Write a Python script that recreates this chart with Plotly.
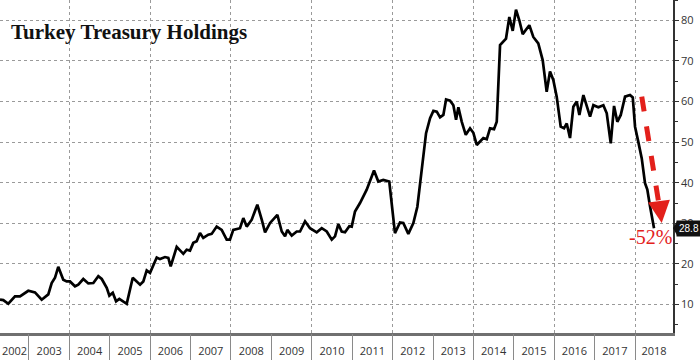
import plotly.graph_objects as go
from datetime import datetime

# Time of each traced point (decimal years) and Turkey's holdings of US Treasuries ($bn)
dec_years = [
    2002.282, 2002.364, 2002.488, 2002.653, 2002.777, 2002.859, 2002.983, 2003.149, 2003.314, 2003.478,
    2003.562, 2003.644, 2003.725, 2003.849, 2003.933, 2004.015, 2004.139, 2004.220, 2004.344, 2004.468,
    2004.592, 2004.715, 2004.800, 2004.923, 2004.988, 2005.072, 2005.154, 2005.235, 2005.319, 2005.418,
    2005.567, 2005.748, 2005.829, 2005.913, 2005.995, 2006.161, 2006.243, 2006.366, 2006.448, 2006.507,
    2006.656, 2006.820, 2006.903, 2006.985, 2007.067, 2007.151, 2007.233, 2007.314, 2007.438, 2007.522,
    2007.646, 2007.770, 2007.894, 2007.975, 2008.057, 2008.223, 2008.305, 2008.389, 2008.513, 2008.651,
    2008.760, 2008.842, 2008.966, 2009.047, 2009.146, 2009.255, 2009.337, 2009.394, 2009.502, 2009.626,
    2009.708, 2009.832, 2009.955, 2010.121, 2010.245, 2010.369, 2010.493, 2010.574, 2010.656, 2010.740,
    2010.822, 2010.928, 2010.988, 2011.069, 2011.193, 2011.359, 2011.458, 2011.540, 2011.646, 2011.770,
    2011.918, 2012.059, 2012.183, 2012.265, 2012.389, 2012.513, 2012.612, 2012.827, 2012.926, 2013.008,
    2013.092, 2013.173, 2013.255, 2013.322, 2013.421, 2013.503, 2013.569, 2013.627, 2013.711, 2013.810,
    2013.916, 2013.998, 2014.082, 2014.163, 2014.245, 2014.329, 2014.411, 2014.510, 2014.577, 2014.659,
    2014.740, 2014.807, 2014.889, 2014.973, 2015.054, 2015.136, 2015.220, 2015.302, 2015.384, 2015.483,
    2015.606, 2015.715, 2015.814, 2015.896, 2015.978, 2016.062, 2016.161, 2016.243, 2016.310, 2016.391,
    2016.473, 2016.557, 2016.622, 2016.721, 2016.805, 2016.886, 2016.968, 2017.091, 2017.215, 2017.299,
    2017.398, 2017.480, 2017.561, 2017.646, 2017.752, 2017.876, 2017.943, 2018.000, 2018.082, 2018.166,
    2018.247, 2018.304, 2018.371, 2018.470,
]
holdings = [
    11.2, 11.1, 10.2, 12.0, 12.0, 12.5, 13.4, 13.0, 11.2, 12.5,
    15.3, 16.6, 19.3, 16.1, 15.7, 15.7, 14.5, 14.9, 16.3, 15.2,
    15.3, 17.0, 16.3, 14.1, 12.2, 12.9, 10.8, 11.4, 10.8, 10.2,
    16.6, 14.9, 15.7, 18.4, 17.8, 21.6, 21.2, 21.7, 21.5, 19.4,
    24.2, 22.5, 23.5, 23.3, 25.2, 25.6, 27.6, 26.4, 27.2, 27.4,
    29.2, 28.4, 26.0, 26.0, 28.4, 28.8, 31.3, 29.2, 30.9, 34.6,
    30.9, 27.8, 30.1, 30.9, 32.1, 28.0, 26.8, 28.4, 27.0, 28.0,
    28.0, 30.5, 28.8, 27.8, 28.8, 28.0, 26.0, 26.8, 29.8, 28.0,
    27.8, 29.3, 29.2, 32.9, 35.0, 38.3, 41.1, 43.0, 40.3, 40.7,
    40.3, 27.6, 30.2, 30.1, 27.4, 30.1, 34.1, 52.2, 55.9, 57.7,
    57.5, 56.1, 56.7, 60.5, 60.2, 59.1, 55.5, 58.6, 55.0, 51.8,
    53.4, 52.3, 49.3, 50.1, 51.0, 50.7, 53.4, 53.2, 55.0, 73.9,
    74.9, 75.5, 80.8, 77.4, 82.6, 80.0, 76.6, 77.7, 78.8, 75.9,
    74.3, 70.2, 62.4, 67.4, 65.3, 61.2, 53.8, 53.4, 54.6, 51.0,
    58.7, 60.0, 56.7, 61.6, 58.7, 56.3, 59.1, 58.6, 59.1, 57.1,
    49.7, 58.9, 55.0, 56.7, 61.2, 61.6, 61.0, 53.8, 50.0, 46.0,
    39.9, 38.3, 34.2, 28.8,
]
year_labels = [str(y) for y in range(2002, 2019)]
last_value = 28.8
change_label = "-52%"
title_text = "Turkey Treasury Holdings"

# arrow annotation anchor points (decimal year, value)
arrow_start = (2018.166, 61.2)
arrow_tip = (2018.66, 30.1)
pct_pos = (2018.371, 26.6)

x_lo, x_hi = 2002.282, 2018.94


def to_date(y):
    yr = int(y)
    s = datetime(yr, 1, 1)
    e = datetime(yr + 1, 1, 1)
    return s + (e - s) * (y - yr)


dates = [to_date(y) for y in dec_years]
x_range = [to_date(x_lo), to_date(x_hi)]
# each year label sits in the middle of the visible part of its year
label_pos = [to_date((max(int(y), x_lo) + min(int(y) + 1, x_hi)) / 2) for y in year_labels]

fig = go.Figure()
fig.add_trace(go.Scatter(x=dates, y=holdings, mode="lines",
                         line=dict(color="#000000", width=2.7), hoverinfo="skip", showlegend=False))
# invisible companions so overlay axes are drawn
for xa in ["x2", "x3"]:
    fig.add_trace(go.Scatter(x=dates, y=holdings, mode="lines", xaxis=xa,
                             line=dict(width=0), opacity=0, hoverinfo="skip", showlegend=False))

grid_col = "#9a9a9a"
fig.update_layout(
    width=700, height=360,
    margin=dict(l=0, r=27, t=0, b=27),
    paper_bgcolor="white", plot_bgcolor="white",
    font=dict(family="Open Sans, Liberation Sans, sans-serif", color="#333", size=11),
    xaxis=dict(type="date", range=x_range, tickmode="array", tickvals=label_pos, ticktext=year_labels,
               ticks="", showgrid=False, zeroline=False, ticklabeloverflow="allow",
               showline=True, linecolor="#707070", linewidth=3,
               tickfont=dict(size=11, color="#333"), ticklabelstandoff=6),
    xaxis2=dict(type="date", overlaying="x", matches="x", anchor="y", side="bottom",
                dtick="M12", tick0="2002-01-01", ticks="outside", ticklen=27, tickwidth=1,
                tickcolor="#8a8a8a", showticklabels=False, showgrid=False, showline=False, zeroline=False),
    xaxis3=dict(type="date", overlaying="x", matches="x", anchor="y", side="bottom",
                dtick="M24", tick0="2000-01-01", ticks="", showticklabels=False,
                showgrid=True, gridcolor=grid_col, griddash="dot", gridwidth=1,
                showline=False, zeroline=False),
    yaxis=dict(side="right", range=[3, 85], dtick=10, tick0=0, ticks="outside", ticklen=4,
               tickcolor="#333", showline=True, linecolor="#333", linewidth=1.5,
               showgrid=True, gridcolor=grid_col, griddash="dot", gridwidth=1, zeroline=False,
               tickfont=dict(size=11, color="#333"),
               minor=dict(dtick=5, ticks="outside", ticklen=3, tickcolor="#333", showgrid=False)),
)

# title
fig.add_annotation(text=f"<b>{title_text}</b>", xref="paper", yref="paper", x=0.014, y=1 - 32 / 333,
                   xanchor="left", yanchor="middle", showarrow=False,
                   font=dict(family="Liberation Serif, DejaVu Serif, serif", size=21, color="#111"))

# last value tag
fig.add_annotation(text=f"{last_value}", xref="paper", yref="y", x=1, y=last_value,
                   xanchor="left", yanchor="middle", xshift=3, showarrow=False,
                   bgcolor="#111", font=dict(size=10, color="white", family="Liberation Sans, sans-serif"),
                   borderpad=2)
fig.add_shape(type="path", xref="paper", yref="y", xsizemode="pixel", ysizemode="pixel",
              xanchor=1, yanchor=last_value, path="M 0 0 L 4 7 L 4 -7 Z",
              fillcolor="#111", line=dict(width=0))

# red dashed arrow
red = "#e3201b"
fig.add_shape(type="line", xref="x", yref="y",
              x0=to_date(arrow_start[0]), y0=arrow_start[1],
              x1=to_date(arrow_tip[0] - 0.05), y1=arrow_tip[1] + 3.5,
              line=dict(color=red, width=5, dash="dash"))
fig.add_annotation(x=to_date(arrow_tip[0]), y=arrow_tip[1], xref="x", yref="y",
                   ax=-2, ay=-16, axref="pixel", ayref="pixel", text="", showarrow=True,
                   arrowhead=2, arrowsize=1.1, arrowwidth=4, arrowcolor=red)
fig.add_annotation(text=change_label, x=to_date(pct_pos[0]), y=pct_pos[1], xref="x", yref="y",
                   showarrow=False, xanchor="center", yanchor="middle",
                   font=dict(family="Liberation Serif, DejaVu Serif, serif", size=20, color=red))

fig.write_html("out.html", config={"displayModeBar": False},
               post_script="document.body.style.margin='0';document.body.style.padding='0';")
